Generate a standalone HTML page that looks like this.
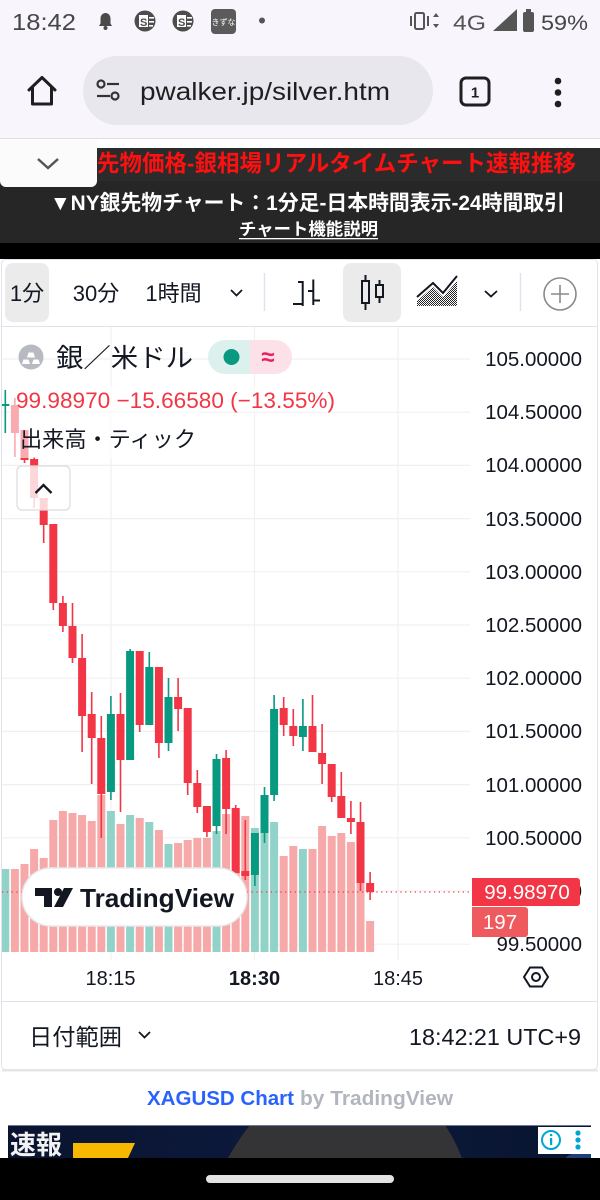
<!DOCTYPE html>
<html><head><meta charset="utf-8">
<style>
html,body{margin:0;padding:0;width:600px;height:1200px;overflow:hidden;background:#fff}
svg{display:block}
text{font-family:"Liberation Sans","Noto Sans CJK JP",sans-serif}
</style></head><body>
<svg width="600" height="1200" viewBox="0 0 600 1200" xmlns="http://www.w3.org/2000/svg">
<defs>
<pattern id="dots" width="2" height="2" patternUnits="userSpaceOnUse"><rect x="0" y="0" width="1" height="1" fill="#222"/><rect x="1" y="1" width="1" height="1" fill="#222"/></pattern>
<clipPath id="cc"><rect x="2" y="327" width="468" height="633"/></clipPath>
<clipPath id="adc"><rect x="8" y="1125" width="583" height="33"/></clipPath>
<linearGradient id="ad" x1="0" y1="0" x2="1" y2="0"><stop offset="0" stop-color="#0a1430"/><stop offset="0.5" stop-color="#0d1a3d"/><stop offset="1" stop-color="#08152f"/></linearGradient>
</defs>
<rect x="0" y="0" width="600" height="1200" fill="#fff"/>
<!-- status bar + url bar -->
<rect x="0" y="0" width="600" height="138" fill="#f8f6fc"/>
<text x="12" y="30" font-size="23" fill="#444746" textLength="64" lengthAdjust="spacingAndGlyphs">18:42</text>
<path d="M105.5 13c-3 0-5 2.5-5 5.5v5l-1.5 2.5h13l-1.5-2.5v-5c0-3-2-5.5-5-5.5z" fill="#4a4a4a"/>
<circle cx="105.5" cy="28" r="2" fill="#4a4a4a"/>
<circle cx="145" cy="21" r="10.5" fill="#4d4d4d"/>
<rect x="139" y="15" width="9" height="12" fill="#fff"/><text x="140" y="26" font-size="11" font-weight="bold" fill="#4d4d4d">S</text>
<rect x="149" y="17" width="5" height="1.6" fill="#fff"/><rect x="149" y="21" width="5" height="1.6" fill="#fff"/><rect x="149" y="25" width="4" height="1.6" fill="#fff"/>
<circle cx="183" cy="21" r="10.5" fill="#4d4d4d"/>
<rect x="177" y="15" width="9" height="12" fill="#fff"/><text x="178" y="26" font-size="11" font-weight="bold" fill="#4d4d4d">S</text>
<rect x="187" y="17" width="5" height="1.6" fill="#fff"/><rect x="187" y="21" width="5" height="1.6" fill="#fff"/><rect x="187" y="25" width="4" height="1.6" fill="#fff"/>
<rect x="211" y="9" width="25" height="25" rx="4" fill="#5b5b5b"/>
<text x="223.5" y="25" font-size="8" fill="#fff" text-anchor="middle">きずな</text>
<circle cx="262" cy="20.5" r="3" fill="#555"/>
<rect x="415" y="13" width="9" height="16" rx="1.5" fill="none" stroke="#555" stroke-width="2"/>
<rect x="410" y="16" width="2" height="10" fill="#555"/><rect x="427" y="16" width="2" height="10" fill="#555"/>
<path d="M433 17l3-4 3 4zM433 24l3 4 3-4z" fill="#555"/>
<text x="453" y="30" font-size="21" fill="#555" textLength="33" lengthAdjust="spacingAndGlyphs">4G</text>
<polygon points="493,31 517,31 517,9" fill="#555"/>
<rect x="523" y="12" width="11" height="20" rx="2" fill="#555"/><rect x="526" y="9" width="5" height="3" fill="#555"/>
<text x="541" y="30" font-size="21" fill="#444746" textLength="47" lengthAdjust="spacingAndGlyphs">59%</text>
<path d="M29 90L42 77.5L55 90M32.5 87V104H51.5V87" fill="none" stroke="#1f1f1f" stroke-width="3" stroke-linejoin="round" stroke-linecap="round"/>
<rect x="83" y="56" width="350" height="69" rx="34.5" fill="#e9e7ee"/>
<circle cx="101" cy="84" r="3.5" fill="none" stroke="#333" stroke-width="2.2"/>
<line x1="107" y1="84" x2="119" y2="84" stroke="#333" stroke-width="2.2"/>
<line x1="97" y1="96" x2="110" y2="96" stroke="#333" stroke-width="2.2"/>
<circle cx="115" cy="96" r="3.5" fill="none" stroke="#333" stroke-width="2.2"/>
<text x="140" y="100" font-size="25" fill="#1f1f1f" textLength="250" lengthAdjust="spacingAndGlyphs">pwalker.jp/silver.htm</text>
<rect x="461" y="78" width="28" height="27" rx="5" fill="none" stroke="#1f1f1f" stroke-width="3"/>
<text x="475" y="97.5" font-size="15" font-weight="bold" fill="#1f1f1f" text-anchor="middle">1</text>
<circle cx="558" cy="81" r="3.3" fill="#1f1f1f"/><circle cx="558" cy="92.5" r="3.3" fill="#1f1f1f"/><circle cx="558" cy="104" r="3.3" fill="#1f1f1f"/>
<line x1="0" y1="138.5" x2="600" y2="138.5" stroke="#dedede"/>
<!-- header -->
<rect x="0" y="139" width="600" height="9" fill="#fff"/>
<rect x="0" y="148" width="600" height="33" fill="#2b2b2b"/>
<rect x="0" y="181" width="600" height="62" fill="#262626"/>
<rect x="0" y="243" width="600" height="16" fill="#000"/>
<path d="M0 140H97V181a6 6 0 0 1-6 6H6a6 6 0 0 1-6-6z" fill="#fbfbfb"/>
<polyline points="38,159 48,168 58,159" fill="none" stroke="#555" stroke-width="2.5"/>
<text x="97" y="171" font-size="23" font-weight="bold" fill="#ff1010" textLength="479" lengthAdjust="spacingAndGlyphs">先物価格-銀相場リアルタイムチャート速報推移</text>
<text x="50" y="210" font-size="21" font-weight="bold" fill="#fff" textLength="515" lengthAdjust="spacingAndGlyphs">▼NY銀先物チャート：1分足-日本時間表示-24時間取引</text>
<text x="239" y="235" font-size="17" font-weight="bold" fill="#fff" textLength="139" lengthAdjust="spacingAndGlyphs">チャート機能説明</text>
<rect x="239" y="238" width="139" height="1.3" fill="#fff"/>
<!-- card -->
<rect x="1.5" y="259.5" width="596" height="810" rx="4" fill="#fff" stroke="#e0e3eb"/>
<line x1="2" y1="1070.5" x2="598" y2="1070.5" stroke="#e6e6e6" stroke-width="2"/>
<!-- toolbar -->
<rect x="5" y="263" width="44" height="59" rx="8" fill="#ebebeb"/>
<rect x="343" y="263" width="58" height="59" rx="8" fill="#ebebeb"/>
<text x="27" y="301" font-size="22" fill="#131722" text-anchor="middle">1分</text>
<text x="96" y="301" font-size="22" fill="#131722" text-anchor="middle">30分</text>
<text x="173.5" y="301" font-size="22" fill="#131722" text-anchor="middle">1時間</text>
<polyline points="231,290 236.5,295.5 242,290" fill="none" stroke="#131722" stroke-width="1.8"/>
<line x1="264.5" y1="273" x2="264.5" y2="311" stroke="#e0e3eb" stroke-width="1.5"/>
<g stroke="#131722" stroke-width="2" fill="none">
<line x1="302.7" y1="281" x2="302.7" y2="306"/><line x1="298" y1="282" x2="302.7" y2="282"/><line x1="293" y1="304" x2="302.7" y2="304"/>
<line x1="313.3" y1="279.5" x2="313.3" y2="305"/><line x1="308" y1="291" x2="313.3" y2="291"/><line x1="313.3" y1="300.5" x2="320" y2="300.5"/>
<rect x="362" y="281" width="7" height="22"/><line x1="365.5" y1="275" x2="365.5" y2="281"/><line x1="365.5" y1="303" x2="365.5" y2="310"/>
<rect x="376" y="285" width="7" height="12"/><line x1="379.5" y1="280" x2="379.5" y2="285"/><line x1="379.5" y1="297" x2="379.5" y2="303"/>
</g>
<polygon points="417,306 417,301 433,287 443,297 457,281 457,306" fill="url(#dots)"/>
<polyline points="417,297 433,283 443,293 457,276" fill="none" stroke="#131722" stroke-width="2"/>
<polyline points="485,291 491,296.5 497,291" fill="none" stroke="#131722" stroke-width="1.8"/>
<line x1="520.5" y1="273" x2="520.5" y2="311" stroke="#e0e3eb" stroke-width="1.5"/>
<circle cx="560" cy="294" r="16" fill="none" stroke="#8a8a8a" stroke-width="1.6"/>
<line x1="551" y1="294" x2="569" y2="294" stroke="#8a8a8a" stroke-width="1.6"/><line x1="560" y1="285" x2="560" y2="303" stroke="#8a8a8a" stroke-width="1.6"/>
<line x1="2" y1="326.5" x2="597" y2="326.5" stroke="#e0e3eb"/>
<!-- chart -->
<g clip-path="url(#cc)">
<g stroke="#f0f0f0" stroke-width="1.2">
<line x1="2" y1="359" x2="470" y2="359"/><line x1="2" y1="412.2" x2="470" y2="412.2"/><line x1="2" y1="465.4" x2="470" y2="465.4"/><line x1="2" y1="518.6" x2="470" y2="518.6"/><line x1="2" y1="571.8" x2="470" y2="571.8"/><line x1="2" y1="625" x2="470" y2="625"/><line x1="2" y1="678.2" x2="470" y2="678.2"/><line x1="2" y1="731.4" x2="470" y2="731.4"/><line x1="2" y1="784.6" x2="470" y2="784.6"/><line x1="2" y1="837.8" x2="470" y2="837.8"/><line x1="2" y1="891" x2="470" y2="891"/><line x1="2" y1="944.2" x2="470" y2="944.2"/>
<line x1="111" y1="327" x2="111" y2="960"/><line x1="254.5" y1="327" x2="254.5" y2="960"/><line x1="398" y1="327" x2="398" y2="960"/>
</g>
<g fill="#f6a9a8">
<rect x="10.9" y="869" width="8" height="83"/><rect x="20.5" y="864" width="8" height="88"/><rect x="30.1" y="849" width="8" height="103"/><rect x="39.7" y="858" width="8" height="94"/><rect x="49.3" y="820" width="8" height="132"/><rect x="58.9" y="811" width="8" height="141"/><rect x="68.5" y="813" width="8" height="139"/><rect x="78.1" y="815" width="8" height="137"/><rect x="87.7" y="821" width="8" height="131"/><rect x="97.3" y="795" width="8" height="157"/><rect x="116.5" y="824" width="8" height="128"/><rect x="135.7" y="818" width="8" height="134"/><rect x="154.9" y="830" width="8" height="122"/><rect x="174.1" y="843" width="8" height="109"/><rect x="183.7" y="840" width="8" height="112"/><rect x="193.3" y="838" width="8" height="114"/><rect x="202.9" y="838" width="8" height="114"/><rect x="222.1" y="814" width="8" height="138"/><rect x="231.7" y="814" width="8" height="138"/><rect x="241.3" y="816" width="8" height="136"/><rect x="279.7" y="856" width="8" height="96"/><rect x="289.3" y="846" width="8" height="106"/><rect x="308.5" y="849" width="8" height="103"/><rect x="318.1" y="826" width="8" height="126"/><rect x="327.7" y="836" width="8" height="116"/><rect x="337.3" y="833" width="8" height="119"/><rect x="346.9" y="842" width="8" height="110"/><rect x="356.5" y="838" width="8" height="114"/><rect x="366.1" y="921" width="8" height="31"/>
</g>
<g fill="#92d3c9">
<rect x="1.3" y="869" width="8" height="83"/><rect x="106.9" y="811" width="8" height="141"/><rect x="126.1" y="815" width="8" height="137"/><rect x="145.3" y="822" width="8" height="130"/><rect x="164.5" y="844" width="8" height="108"/><rect x="212.5" y="831" width="8" height="121"/><rect x="250.9" y="828" width="8" height="124"/><rect x="260.5" y="825" width="8" height="127"/><rect x="270.1" y="822" width="8" height="130"/><rect x="298.9" y="849" width="8" height="103"/>
</g>
<line x1="2" y1="892" x2="470" y2="892" stroke="#f23645" stroke-width="1.2" stroke-dasharray="1.2 3.6"/>
<g fill="#f23645">
<rect x="14.1" y="398" width="1.6" height="59"/><rect x="10.9" y="405" width="8" height="28"/>
<rect x="23.7" y="430" width="1.6" height="33"/><rect x="20.5" y="430" width="8" height="30"/>
<rect x="33.3" y="457" width="1.6" height="51"/><rect x="30.1" y="459" width="8" height="39"/>
<rect x="42.9" y="498" width="1.6" height="45"/><rect x="39.7" y="498" width="8" height="27"/>
<rect x="52.5" y="524" width="1.6" height="86"/><rect x="49.3" y="524" width="8" height="79"/>
<rect x="62.1" y="596" width="1.6" height="36"/><rect x="58.9" y="603" width="8" height="23"/>
<rect x="71.7" y="603" width="1.6" height="60"/><rect x="68.5" y="626" width="8" height="32"/>
<rect x="81.3" y="634" width="1.6" height="118"/><rect x="78.1" y="658" width="8" height="58"/>
<rect x="90.9" y="692" width="1.6" height="92"/><rect x="87.7" y="714" width="8" height="24"/>
<rect x="100.5" y="716" width="1.6" height="122"/><rect x="97.3" y="738" width="8" height="56"/>
<rect x="119.7" y="693" width="1.6" height="119"/><rect x="116.5" y="714" width="8" height="46"/>
<rect x="138.9" y="651" width="1.6" height="81"/><rect x="135.7" y="651" width="8" height="74"/>
<rect x="158.1" y="667" width="1.6" height="91"/><rect x="154.9" y="667" width="8" height="76"/>
<rect x="177.3" y="678" width="1.6" height="53"/><rect x="174.1" y="697" width="8" height="12"/>
<rect x="186.9" y="708" width="1.6" height="87"/><rect x="183.7" y="708" width="8" height="75"/>
<rect x="196.5" y="770" width="1.6" height="43"/><rect x="193.3" y="783" width="8" height="24"/>
<rect x="206.1" y="806" width="1.6" height="31"/><rect x="202.9" y="806" width="8" height="26"/>
<rect x="225.3" y="750" width="1.6" height="84"/><rect x="222.1" y="758" width="8" height="51"/>
<rect x="234.9" y="805" width="1.6" height="68"/><rect x="231.7" y="808" width="8" height="65"/>
<rect x="244.5" y="820" width="1.6" height="60"/><rect x="241.3" y="871" width="8" height="5"/>
<rect x="282.9" y="697" width="1.6" height="39"/><rect x="279.7" y="708" width="8" height="17"/>
<rect x="292.5" y="709" width="1.6" height="37"/><rect x="289.3" y="726" width="8" height="10"/>
<rect x="311.7" y="695" width="1.6" height="57"/><rect x="308.5" y="726" width="8" height="26"/>
<rect x="321.3" y="724" width="1.6" height="60"/><rect x="318.1" y="753" width="8" height="11"/>
<rect x="330.9" y="764" width="1.6" height="38"/><rect x="327.7" y="764" width="8" height="33"/>
<rect x="340.5" y="772" width="1.6" height="46"/><rect x="337.3" y="796" width="8" height="22"/>
<rect x="350.1" y="801" width="1.6" height="33"/><rect x="346.9" y="818" width="8" height="4"/>
<rect x="359.7" y="802" width="1.6" height="89"/><rect x="356.5" y="822" width="8" height="61"/>
<rect x="369.3" y="872" width="1.6" height="28"/><rect x="366.1" y="883" width="8" height="9"/>
</g>
<g fill="#089981">
<rect x="4.5" y="390" width="1.6" height="43"/><rect x="1.3" y="404" width="8" height="2"/>
<rect x="110.1" y="696" width="1.6" height="104"/><rect x="106.9" y="714" width="8" height="78"/>
<rect x="129.3" y="649" width="1.6" height="111"/><rect x="126.1" y="651" width="8" height="109"/>
<rect x="148.5" y="652" width="1.6" height="73"/><rect x="145.3" y="667" width="8" height="58"/>
<rect x="167.7" y="678" width="1.6" height="73"/><rect x="164.5" y="697" width="8" height="46"/>
<rect x="215.7" y="754" width="1.6" height="80"/><rect x="212.5" y="759" width="8" height="67"/>
<rect x="254.1" y="833" width="1.6" height="53"/><rect x="250.9" y="833" width="8" height="42"/>
<rect x="263.7" y="787" width="1.6" height="56"/><rect x="260.5" y="795" width="8" height="38"/>
<rect x="273.3" y="695" width="1.6" height="106"/><rect x="270.1" y="709" width="8" height="86"/>
<rect x="302.1" y="699" width="1.6" height="52"/><rect x="298.9" y="726" width="8" height="11"/>
</g>
<!-- legend backgrounds -->
<rect x="10" y="386" width="330" height="26" fill="#fff" fill-opacity="0.58"/>
<rect x="10" y="412" width="190" height="46" fill="#fff" fill-opacity="0.58"/>
<rect x="17" y="466" width="53" height="44" rx="5" fill="#fff" fill-opacity="0.8" stroke="#dcdcdc" stroke-width="1.2"/>
<polyline points="35.5,493 43.5,485 51.5,493" fill="none" stroke="#131722" stroke-width="2.3"/>
<!-- TradingView pill -->
<rect x="22" y="868" width="225" height="58" rx="29" fill="#fff" stroke="#e8e8e8" stroke-width="1.5"/>
<rect x="35" y="888" width="17" height="8" fill="#131722"/><rect x="44" y="888" width="8" height="19" fill="#131722"/>
<circle cx="58" cy="892" r="4" fill="#131722"/>
<polygon points="64,888 73,888 63,907 54,907" fill="#131722"/>
<text x="80" y="907" font-size="26" font-weight="bold" fill="#131722" textLength="154" lengthAdjust="spacingAndGlyphs">TradingView</text>
</g>
<!-- legend -->
<circle cx="31" cy="357" r="12.5" fill="#b8bac2"/>
<polygon points="22,364 30,364 28.5,359.5 23.5,359.5" fill="#fff"/><polygon points="32,364 40,364 38.5,359.5 33.5,359.5" fill="#fff"/><polygon points="27,357.5 35,357.5 33.5,352.5 28.5,352.5" fill="#fff"/>
<text x="56" y="367" font-size="26" fill="#131722" textLength="137" lengthAdjust="spacingAndGlyphs">銀／米ドル</text>
<path d="M225 340H250V374H225a17 17 0 0 1 0-34z" fill="#dcf1ee"/>
<path d="M250 340H275a17 17 0 0 1 0 34H250z" fill="#fde1e8"/>
<circle cx="231.5" cy="357" r="8" fill="#089981"/>
<text x="268" y="365" font-size="24" font-weight="bold" fill="#e91e63" text-anchor="middle">≈</text>
<text x="16" y="408" font-size="22.5" fill="#f23645" textLength="319" lengthAdjust="spacingAndGlyphs">99.98970 −15.66580 (−13.55%)</text>
<text x="20" y="447" font-size="22" fill="#131722" textLength="176" lengthAdjust="spacingAndGlyphs">出来高・ティック</text>
<!-- price axis -->
<g font-size="20.5" fill="#131722" text-anchor="end">
<text x="582" y="366">105.00000</text><text x="582" y="419">104.50000</text><text x="582" y="472">104.00000</text><text x="582" y="526">103.50000</text><text x="582" y="579">103.00000</text><text x="582" y="632">102.50000</text><text x="582" y="685">102.00000</text><text x="582" y="738">101.50000</text><text x="582" y="792">101.00000</text><text x="582" y="845">100.50000</text><text x="582" y="898">100.00000</text><text x="582" y="951">99.50000</text>
</g>
<path d="M472 878H577a3 3 0 0 1 3 3V903a3 3 0 0 1-3 3H472z" fill="#f23645"/>
<text x="527" y="899" font-size="20.5" fill="#fff" text-anchor="middle">99.98970</text>
<path d="M472 907H525a3 3 0 0 1 3 3V934a3 3 0 0 1-3 3H472z" fill="#ef5a5f"/>
<text x="500" y="929" font-size="20.5" fill="#fff" text-anchor="middle">197</text>
<!-- time axis -->
<text x="110.5" y="985" font-size="20" fill="#131722" text-anchor="middle">18:15</text>
<text x="254.5" y="985" font-size="20" font-weight="bold" fill="#131722" text-anchor="middle">18:30</text>
<text x="398" y="985" font-size="20" fill="#131722" text-anchor="middle">18:45</text>
<polygon points="524,977 530,967.5 542,967.5 548,977 542,986.5 530,986.5" fill="none" stroke="#131722" stroke-width="2"/>
<circle cx="536" cy="977" r="4" fill="none" stroke="#131722" stroke-width="2"/>
<line x1="2" y1="1001.5" x2="597" y2="1001.5" stroke="#e0e3eb"/>
<!-- bottom bar -->
<text x="29" y="1045" font-size="23" fill="#131722" textLength="93" lengthAdjust="spacingAndGlyphs">日付範囲</text>
<polyline points="139,1032 144.5,1037.5 150,1032" fill="none" stroke="#131722" stroke-width="1.8"/>
<text x="409" y="1045" font-size="23" fill="#131722" textLength="172" lengthAdjust="spacingAndGlyphs">18:42:21 UTC+9</text>
<text x="147" y="1105" font-size="20" font-weight="bold" fill="#2962ff" textLength="147" lengthAdjust="spacingAndGlyphs">XAGUSD Chart</text>
<text x="300" y="1105" font-size="20" font-weight="bold" fill="#b2b5be" textLength="153" lengthAdjust="spacingAndGlyphs">by TradingView</text>
<!-- ad -->
<rect x="8" y="1125" width="583" height="33" fill="url(#ad)"/>
<g clip-path="url(#adc)">
<path d="M250 1125L445 1125Q455 1140 462 1158L228 1158Q238 1140 250 1125z" fill="#343436"/>
<ellipse cx="585" cy="1160" rx="20" ry="8" fill="#2a5ca8" fill-opacity="0.6"/>
</g>
<line x1="8" y1="1125.5" x2="591" y2="1125.5" stroke="#6d7a95"/>
<text x="10" y="1154" font-size="26" font-weight="bold" fill="#f2f2f2">速報</text>
<polygon points="73,1143 135,1143 128,1158 73,1158" fill="#f6b900"/>
<rect x="538" y="1127" width="53" height="27" fill="#fff"/>
<circle cx="551" cy="1140" r="9" fill="none" stroke="#00a6d1" stroke-width="2"/>
<rect x="550" y="1138" width="2.2" height="7" fill="#00a6d1"/><circle cx="551.1" cy="1135" r="1.3" fill="#00a6d1"/>
<circle cx="578" cy="1133" r="2.6" fill="#00a6d1"/><circle cx="578" cy="1140" r="2.6" fill="#00a6d1"/><circle cx="578" cy="1147" r="2.6" fill="#00a6d1"/>
<!-- nav bar -->
<rect x="0" y="1158" width="600" height="42" fill="#000"/>
<rect x="206" y="1175" width="188" height="8" rx="4" fill="#e3e3e3"/>
</svg>
</body></html>
